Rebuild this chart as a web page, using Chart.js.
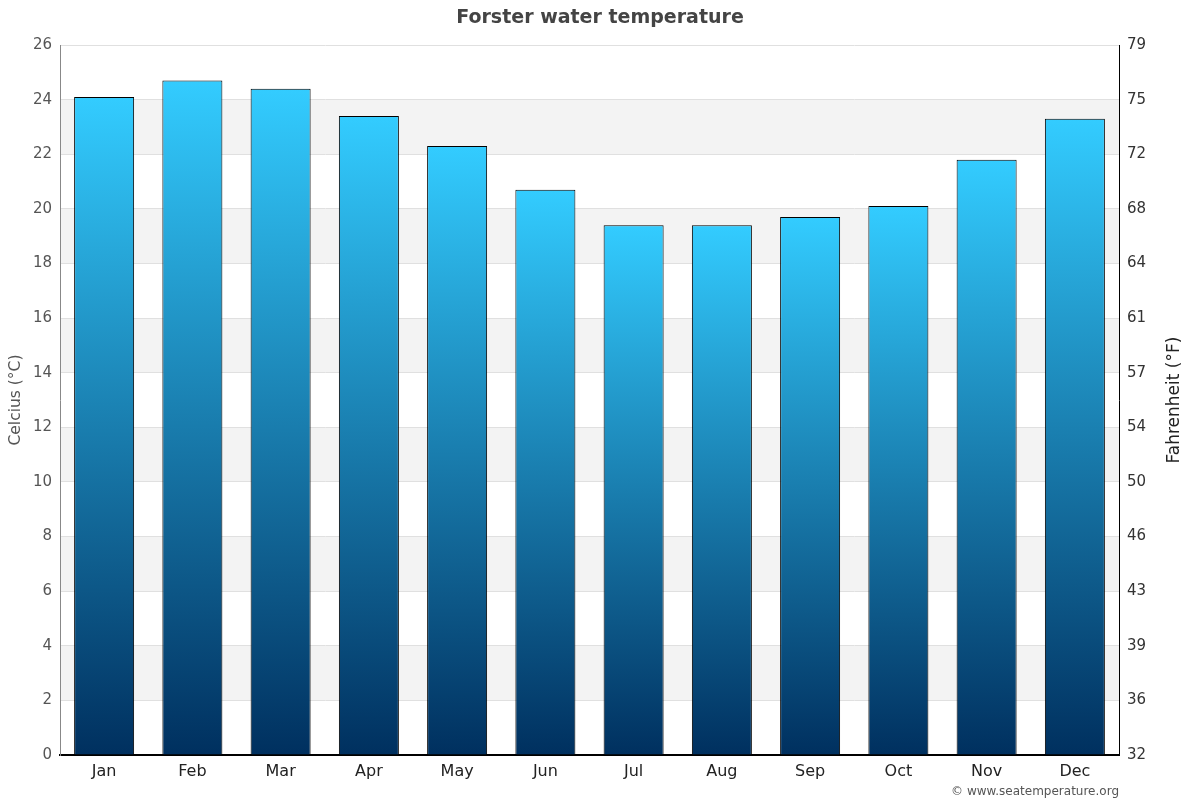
<!DOCTYPE html>
<html>
<head>
<meta charset="utf-8">
<script src="https://cdn.jsdelivr.net/npm/chart.js@4.4.0/dist/chart.umd.min.js"></script>
<style>
  body { margin: 0; background: #fff; }
  #wrap { width: 1200px; height: 800px; }
</style>
</head>
<body>
<div id="wrap"><canvas id="chart" width="1200" height="800"></canvas></div>
<script>
const months = ["Jan", "Feb", "Mar", "Apr", "May", "Jun", "Jul", "Aug", "Sep", "Oct", "Nov", "Dec"];
const waterTemp = [24.1, 24.7, 24.4, 23.4, 22.3, 20.7, 19.4, 19.4, 19.7, 20.1, 21.8, 23.3];
const titleText = "Forster water temperature";
const leftTitle = "Celcius (°C)";
const rightTitle = "Fahrenheit (°F)";
const credit = "© www.seatemperature.org";

const FONT = "'DejaVu Sans', sans-serif";

// grey bands between every other pair of ticks, under the grid
const bands = {
    id: "bands",
    beforeDraw(chart) {
        const { ctx, chartArea } = chart;
        const y = chart.scales.y;
        ctx.save();
        ctx.fillStyle = "#f3f3f3";
        for (let v = 2; v < 26; v += 4) {
            const top = y.getPixelForValue(v + 2);
            const bot = y.getPixelForValue(v);
            ctx.fillRect(chartArea.left, top, chartArea.right - chartArea.left, bot - top);
        }
        ctx.restore();
    },
    afterDraw(chart) {
        const { ctx, chartArea } = chart;
        ctx.save();
        ctx.fillStyle = "#444";
        ctx.font = "bold 19px " + FONT;
        ctx.textAlign = "center";
        ctx.textBaseline = "middle";
        ctx.fillText(titleText, 600, 18);

        ctx.fillStyle = "#222";
        ctx.font = "17px " + FONT;
        ctx.translate(1175, (chartArea.top + chartArea.bottom) / 2);
        ctx.rotate(-Math.PI / 2);
        ctx.fillText(rightTitle, 0, 0);
        ctx.restore();

        ctx.save();
        ctx.fillStyle = "#555";
        ctx.font = "12px " + FONT;
        ctx.textAlign = "right";
        ctx.textBaseline = "middle";
        ctx.fillText(credit, chartArea.right, 792);
        ctx.restore();
    }
};

const barFill = (c) => {
    const chart = c.chart;
    if (!chart.chartArea || c.type !== "data") return "#1a8fcc";
    const y = chart.scales.y;
    const top = y.getPixelForValue(c.raw);
    const bot = y.getPixelForValue(0);
    const g = chart.ctx.createLinearGradient(0, top, 0, bot);
    g.addColorStop(0, "#33ccff");
    g.addColorStop(1, "#00305f");
    return g;
};

new Chart(document.getElementById("chart"), {
    type: "bar",
    data: {
        labels: months,
        datasets: [{
            label: "Water temperature",
            data: waterTemp,
            backgroundColor: barFill,
            borderColor: "#000",
            borderWidth: 1,
            borderSkipped: "bottom",
            categoryPercentage: 1,
            barPercentage: 0.68
        }]
    },
    options: {
        responsive: false,
        devicePixelRatio: 1,
        animation: false,
        layout: { padding: { top: 45, left: 0, right: 0, bottom: 0 } },
        plugins: {
            legend: { display: false },
            title: { display: false },
            tooltip: { enabled: false }
        },
        scales: {
            x: {
                grid: { display: false, drawTicks: false },
                border: { display: true, color: "#000", width: 2 },
                ticks: { color: "#222", font: { family: FONT, size: 16 }, padding: 7 },
                afterFit: (s) => { s.height = 45; }
            },
            y: {
                position: "left",
                min: 0,
                max: 26,
                ticks: { stepSize: 2, color: "#555", font: { family: FONT, size: 15 }, padding: 8 },
                grid: { color: "#e0e0e0", drawTicks: false },
                border: { display: true, color: "#888", width: 1 },
                title: {
                    display: true,
                    text: leftTitle,
                    color: "#555",
                    font: { family: FONT, size: 15.5 },
                    padding: { top: 7, bottom: 0 }
                },
                afterFit: (s) => { s.width = 60; }
            },
            y2: {
                position: "right",
                min: 0,
                max: 26,
                ticks: {
                    stepSize: 2,
                    color: "#333",
                    font: { family: FONT, size: 15 },
                    padding: 8,
                    callback: (v) => Math.round(v * 9 / 5 + 32)
                },
                grid: { display: false, drawTicks: false },
                border: { display: true, color: "#000", width: 1 },
                afterFit: (s) => { s.width = 81; }
            }
        }
    },
    plugins: [bands]
});
</script>
</body>
</html>
